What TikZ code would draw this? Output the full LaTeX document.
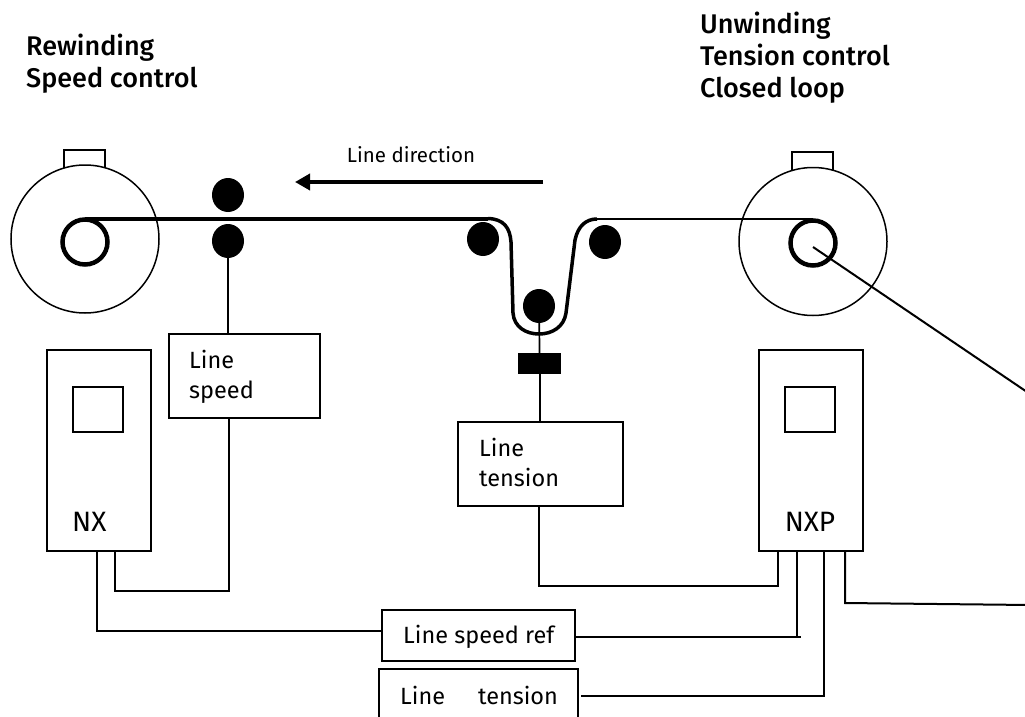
\documentclass[tikz,border=0pt]{standalone}
\usepackage{fontspec}
\setmainfont{Fira Sans}
\newfontfamily\titlefont{Fira Sans Medium}
\usetikzlibrary{arrows.meta,shapes.geometric}
\tikzset{
  x=1pt,y=-1pt,
  box/.style={draw,line width=1.5pt,rectangle,inner sep=0pt,outer sep=0pt,anchor=north west},
  lbl/.style={anchor=west,inner sep=0pt,font=\fontsize{23.5}{30}\selectfont,align=left},
  title/.style={anchor=west,inner sep=0pt,font=\titlefont\fontsize{27}{32}\selectfont,align=left},
  reel/.style={draw,line width=1.5pt,circle,minimum size=148pt,inner sep=0pt},
  core/.style={draw,line width=4.5pt,circle,minimum size=45pt,inner sep=0pt},
  roller/.style={fill=black,ellipse,minimum width=32pt,minimum height=34pt,inner sep=0pt},
  conn/.style={line width=1.7pt},
  web/.style={line width=3.5pt},
}
\begin{document}
\begin{tikzpicture}
\useasboundingbox (0,0) rectangle (1025,717);
\clip (0,0) rectangle (1025,717);
% titles
\node[title] (t1) at (26,63.5) {Rewinding\\Speed control};
\node[title] (t2) at (700,58) {Unwinding\\Tension control\\Closed loop};
% reels
\node[box,minimum width=41pt,minimum height=21pt] (m1) at (64,150) {};
\node[box,minimum width=41pt,minimum height=21pt] (m2) at (792,152) {};
\node[reel,fill=white] (r1) at (85,239) {};
\node[reel,fill=white] (r2) at (813,241.5) {};
\node[core] (c1) at (85,242) {};
\node[core] (c2) at (813,243) {};
% rollers
\node[roller] (n1) at (228,195) {};
\node[roller] (n2) at (228,241) {};
\node[roller] (n3) at (483,239) {};
\node[roller] (n4) at (605,242) {};
\node[roller] (n5) at (539,306) {};
\node[fill=black,minimum width=43pt,minimum height=21pt,inner sep=0pt,anchor=north west] (sens) at (518,353) {};
% direction
\coordinate (da) at (543,182);
\coordinate (db) at (295,182);
\draw[line width=3.6pt,-{Triangle[length=15pt,width=16pt]}] (da) -- (db);
\begin{scope}
\clip (300,140) rectangle (520,162.5);
\node[font=\fontsize{20.5}{24}\selectfont,inner sep=0pt] (dirl) at (411,155) {Line direction};
\end{scope}
% boxes
\node[box,minimum width=104pt,minimum height=201pt] (nx) at (47,350) {};
\node[box,minimum width=50pt,minimum height=45pt] (nxi) at (73,387) {};
\node[anchor=west,inner sep=0pt,font=\fontsize{28}{32}\selectfont] (nxl) at (72,522) {NX};
\node[box,minimum width=104pt,minimum height=201pt] (nxp) at (759,350) {};
\node[box,minimum width=50pt,minimum height=45pt] (nxpi) at (785,387) {};
\node[inner sep=0pt,font=\fontsize{28}{32}\selectfont] (nxpl) at (810,522) {NXP};
\node[box,minimum width=151pt,minimum height=84pt] (ls) at (169,334) {};
\node[lbl] (lsl) at (189,377) {Line\\speed};
\node[box,minimum width=165pt,minimum height=84pt] (lt) at (458,422) {};
\node[lbl] (ltl) at (479,462) {Line\\tension};
\node[box,minimum width=193pt,minimum height=51pt] (lsr) at (382,610) {};
\node[lbl] (lsrl) at (403,637) {Line speed ref};
\node[box,minimum width=199pt,minimum height=60pt] (ltr) at (379,669) {};
\node[lbl] (ltrl) at (400,695) {Line\hspace{33pt}tension};
% web
\coordinate (wl) at (488,218.5);
\coordinate (wr) at (597,219);
\draw[line width=4pt] (c1.north |- wl) -- (wl);
\draw[web] (wl) .. controls (504,219) and (510,228) .. (511,242) -- (513,313) .. controls (514,327) and (526,334) .. (539,334) .. controls (552,334) and (564,327) .. (566,313) -- (575,240) .. controls (578,226) and (586,219) .. (wr);
\draw[line width=2.2pt] (wr) -- (c2.north |- wr);
% connectors
\coordinate (wd) at (1030,394);
\coordinate (cc) at (813,247);
\draw[line width=2pt] (cc) -- (wd);
\draw[conn] (n2) -- (ls.north -| n2);
\draw[conn] (n5) -- (sens);
\draw[conn] (sens) -- (lt.north -| sens);
\coordinate (a1) at (115,551);
\coordinate (a2) at (229,591);
\draw[conn] (a1) |- (a2) -- (ls.south -| a2);
\coordinate (b1) at (97,551);
\coordinate (b2) at (382,631);
\draw[conn] (b1) |- (b2);
\coordinate (e1) at (539,586);
\coordinate (e2) at (778,551);
\draw[conn] (lt.south -| e1) -- (e1) -| (e2);
\coordinate (f0) at (575,637);
\coordinate (f1) at (801,637);
\coordinate (f2) at (797,551);
\draw[conn] (f0) -- (f1);
\draw[conn] (f2) -- (f2 |- f1);
\coordinate (g0) at (581,696);
\coordinate (g1) at (824,696);
\coordinate (g2) at (824,551);
\draw[conn] (g0) -- (g1) -- (g2);
\coordinate (h0) at (845,551);
\coordinate (h1) at (845,603);
\coordinate (h2) at (1030,605);
\draw[line width=2pt] (h0) -- (h1) -- (h2);
\end{tikzpicture}
\end{document}
